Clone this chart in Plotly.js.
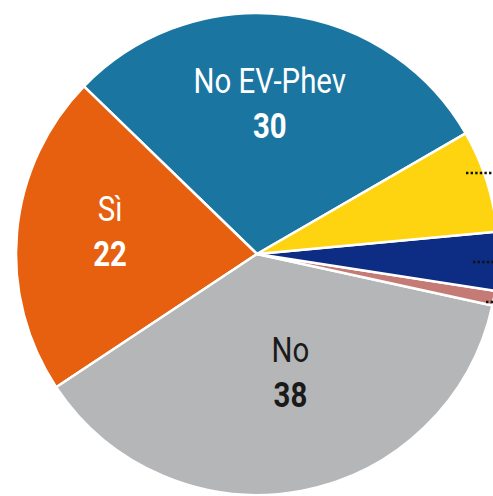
<!DOCTYPE html>
<html>
<head>
<meta charset="utf-8">
<script src="https://cdn.plot.ly/plotly-3.0.1.min.js"></script>
<style>
html,body{margin:0;padding:0;background:#fff;overflow:hidden;width:493px;height:496px;}
#chart{width:520px;height:496px;}
#chart text.annotation-text{transform-box:fill-box;transform-origin:center;transform:scaleX(0.84);}
</style>
</head>
<body>
<div id="chart"></div>
<script>
// Data
var labels = ["No EV-Phev", "Sì", "No", "Altro 1", "Altro 2", "Altro 3"];
var values = [30, 22, 38, 1, 4, 7];
var colors = ["#1a76a1", "#e6600f", "#b5b6b8", "#c47b76", "#0d2d84", "#fdd40f"];
var shownLabels = ["No EV-Phev", "Sì", "No"];
var shownValues = [30, 22, 38];
var labelColors = ["#ffffff", "#ffffff", "#1a1a1a"];

var W = 520, H = 496;
var cx = 257, cy = 254, R = 241;

var trace = {
  type: "pie",
  labels: labels,
  values: values,
  sort: false,
  direction: "counterclockwise",
  rotation: -45.9,
  marker: {colors: colors, line: {color: "#ffffff", width: 2.5}},
  textinfo: "none",
  hoverinfo: "label+value",
  showlegend: false,
  domain: {
    x: [(cx - R) / W, (cx + R) / W],
    y: [(H - cy - R) / H, (H - cy + R) / H]
  }
};

// label positions in pixels
var pos = [[270, 104], [109.5, 232.5], [290.5, 373.5]];
var fnt = "Roboto, 'Liberation Sans Narrow', sans-serif";
var annotations = [];
for (var i = 0; i < shownLabels.length; i++) {
  annotations.push({
    xref: "paper", yref: "paper",
    x: pos[i][0] / W, y: 1 - pos[i][1] / H,
    xanchor: "center", yanchor: "middle",
    showarrow: false,
    text: shownLabels[i] + "<br><b>" + shownValues[i] + "</b>",
    font: {family: fnt, size: 35, color: labelColors[i]},
    align: "center"
  });
}

// dotted leader stubs for small slices (cropped labels)
var dots = [[466, 173], [473, 262], [486, 302]];
var shapes = dots.map(function (d) {
  return {
    type: "line", xref: "paper", yref: "paper",
    x0: d[0] / W, x1: 495 / W, y0: 1 - d[1] / H, y1: 1 - d[1] / H,
    line: {color: "#111111", width: 2.4, dash: "2.4px,2.2px"}
  };
});

var layout = {
  width: W, height: H,
  margin: {l: 0, r: 0, t: 0, b: 0},
  paper_bgcolor: "#ffffff",
  plot_bgcolor: "#ffffff",
  annotations: annotations,
  shapes: shapes
};

Plotly.newPlot("chart", [trace], layout, {displayModeBar: false, staticPlot: true});
</script>
</body>
</html>
